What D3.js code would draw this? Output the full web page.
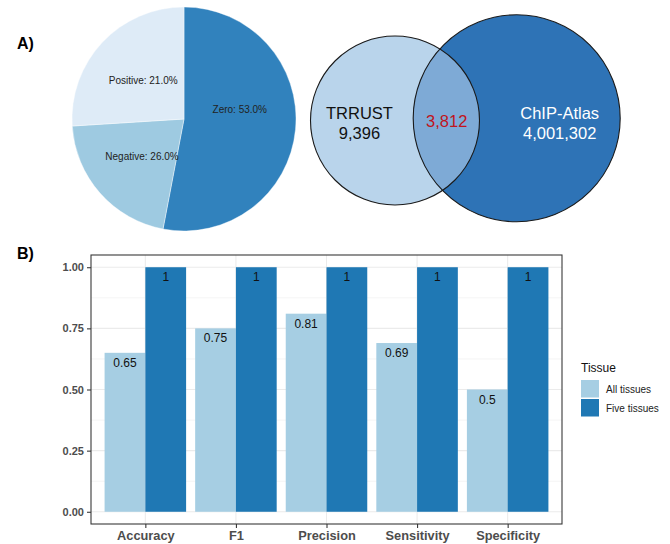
<!DOCTYPE html>
<html>
<head>
<meta charset="utf-8">
<script src="https://cdn.jsdelivr.net/npm/d3@7"></script>
<style>
  body { margin: 0; background: #fff; }
  svg { font-family: "Liberation Sans", Arial, Helvetica, sans-serif; display: block; }
</style>
</head>
<body>
<div id="mount"></div>
<script>
// ---- data ----
// pie (slice sizes as drawn, labels as printed)
var pieCategories = ['Zero', 'Negative', 'Positive'];
var pieShares = [53, 21, 26];
var pieLabels = ['Zero: 53.0%', 'Negative: 26.0%', 'Positive: 21.0%'];

// venn
var vennSets = ['TRRUST', 'ChIP-Atlas'];
var vennCounts = [9396, 4001302];
var vennOverlap = 3812;

// bar chart
var metrics = ['Accuracy', 'F1', 'Precision', 'Sensitivity', 'Specificity'];
var tissues = ['All tissues', 'Five tissues'];
var allTissues = [0.65, 0.75, 0.81, 0.69, 0.5];
var fiveTissues = [1, 1, 1, 1, 1];
var yTicks = [0, 0.25, 0.5, 0.75, 1];
var yMinor = [0.125, 0.375, 0.625, 0.875];

var width = 670, height = 544;
var svg = d3.select('#mount').append('svg')
    .attr('width', width)
    .attr('height', height);

// panel letters
svg.append('text').attr('x', 17).attr('y', 48.5)
    .style('font-size', '16px').style('font-weight', 'bold').text('A)');
svg.append('text').attr('x', 17).attr('y', 258.5)
    .style('font-size', '16px').style('font-weight', 'bold').text('B)');

// ---- pie ----
var pieR = 112;
var pieG = svg.append('g').attr('transform', 'translate(184,119)');
var pieColor = d3.scaleOrdinal().domain(pieCategories).range(['#3182bd', '#9ecae1', '#deebf7']);
var pie = d3.pie().sort(null).value(d => d.value);
var arc = d3.arc().innerRadius(0).outerRadius(pieR);
var pieData = pie(pieCategories.map((c, i) => ({ cat: c, value: pieShares[i], label: pieLabels[i] })));

pieG.selectAll('.slice')
    .data(pieData)
  .enter().append('path')
    .attr('class', 'slice')
    .attr('d', arc)
    .style('fill', d => pieColor(d.data.cat))
    .style('stroke', '#fff')
    .style('stroke-width', 0.4);

pieG.selectAll('.plabel')
    .data(pieData)
  .enter().append('text')
    .attr('class', 'plabel')
    .attr('transform', d => {
      var c = arc.centroid(d);
      // the zero label sits a little higher in the original
      if (d.data.cat === 'Zero') c[1] -= 15;
      return `translate(${c[0]},${c[1]})`;
    })
    .attr('dy', '0.35em')
    .attr('text-anchor', 'middle')
    .style('font-size', '10px')
    .style('fill', '#222')
    .text(d => d.data.label);

// ---- venn ----
var fmt = d3.format(',');
var venn = [
  { name: vennSets[0], count: vennCounts[0], cx: 395, cy: 120.5, r: 84.5, fill: '#b9d4eb', text: '#111' },
  { name: vennSets[1], count: vennCounts[1], cx: 516.7, cy: 118.3, r: 103.5, fill: '#2e73b6', text: '#fff' }
];
var vennG = svg.append('g');
vennG.append('clipPath').attr('id', 'clipLeft')
  .append('circle').attr('cx', venn[0].cx).attr('cy', venn[0].cy).attr('r', venn[0].r);

vennG.selectAll('.vcirc')
    .data(venn)
  .enter().append('circle')
    .attr('class', 'vcirc')
    .attr('cx', d => d.cx).attr('cy', d => d.cy).attr('r', d => d.r)
    .style('fill', d => d.fill);

vennG.append('circle')
    .attr('cx', venn[1].cx).attr('cy', venn[1].cy).attr('r', venn[1].r)
    .attr('clip-path', 'url(#clipLeft)')
    .style('fill', '#7eaad6');

vennG.selectAll('.vline')
    .data(venn)
  .enter().append('circle')
    .attr('class', 'vline')
    .attr('cx', d => d.cx).attr('cy', d => d.cy).attr('r', d => d.r)
    .style('fill', 'none').style('stroke', '#1a1a1a').style('stroke-width', 1.1);

var vtx = [359.5, 559.7];
venn.forEach((d, i) => {
  vennG.append('text').attr('x', vtx[i]).attr('y', 118.5).attr('text-anchor', 'middle')
      .style('font-size', '16.5px').style('fill', d.text).text(d.name);
  vennG.append('text').attr('x', vtx[i]).attr('y', 138.5).attr('text-anchor', 'middle')
      .style('font-size', '16.5px').style('fill', d.text).text(fmt(d.count));
});
vennG.append('text').attr('x', 446.7).attr('y', 126.5).attr('text-anchor', 'middle')
    .style('font-size', '16.5px').style('fill', '#c0141c').text(fmt(vennOverlap));

// ---- bar chart ----
var panel = { left: 91, right: 562, top: 255, bottom: 524 };
var x = d3.scalePoint().domain(metrics).range([panel.left, panel.right]).padding(0.6);
var step = x.step();
var xSub = d3.scaleBand().domain(tissues).range([-0.45 * step, 0.45 * step]);
var y = d3.scaleLinear().domain([-0.05, 1.05]).range([panel.bottom, panel.top]);
var barColor = d3.scaleOrdinal().domain(tissues).range(['#a6cee3', '#1f78b4']);

var bars = svg.append('g');

// grid
bars.selectAll('.minor').data(yMinor).enter().append('line')
    .attr('x1', panel.left).attr('x2', panel.right)
    .attr('y1', d => y(d)).attr('y2', d => y(d))
    .style('stroke', '#ebebeb').style('stroke-width', 0.55);
bars.selectAll('.hmajor').data(yTicks).enter().append('line')
    .attr('x1', panel.left).attr('x2', panel.right)
    .attr('y1', d => y(d)).attr('y2', d => y(d))
    .style('stroke', '#ebebeb').style('stroke-width', 1.07);
bars.selectAll('.vmajor').data(metrics).enter().append('line')
    .attr('x1', d => x(d)).attr('x2', d => x(d))
    .attr('y1', panel.top).attr('y2', panel.bottom)
    .style('stroke', '#ebebeb').style('stroke-width', 1.07);

var barData = [];
metrics.forEach((m, i) => {
  barData.push({ metric: m, tissue: tissues[0], value: allTissues[i] });
  barData.push({ metric: m, tissue: tissues[1], value: fiveTissues[i] });
});

bars.selectAll('.bar')
    .data(barData)
  .enter().append('rect')
    .attr('class', 'bar')
    .attr('x', d => x(d.metric) + xSub(d.tissue))
    .attr('width', xSub.bandwidth())
    .attr('y', d => y(d.value))
    .attr('height', d => y(0) - y(d.value))
    .style('fill', d => barColor(d.tissue));

bars.selectAll('.blabel')
    .data(barData)
  .enter().append('text')
    .attr('class', 'blabel')
    .attr('x', d => x(d.metric) + xSub(d.tissue) + xSub.bandwidth() / 2)
    .attr('y', d => y(d.value) + 14)
    .attr('text-anchor', 'middle')
    .style('font-size', '12px')
    .style('fill', '#111')
    .text(d => String(d.value));

// panel border
bars.append('rect')
    .attr('x', panel.left).attr('y', panel.top)
    .attr('width', panel.right - panel.left).attr('height', panel.bottom - panel.top)
    .style('fill', 'none').style('stroke', '#333').style('stroke-width', 1.07);

// axes
var yAxis = d3.axisLeft(y).tickValues(yTicks).tickFormat(d3.format('.2f')).tickSize(4).tickPadding(3);
var xAxis = d3.axisBottom(x).tickSize(4).tickPadding(3);

var yg = bars.append('g').attr('transform', `translate(${panel.left},0)`).call(yAxis);
var xg = bars.append('g').attr('transform', `translate(0,${panel.bottom})`).call(xAxis);
[yg, xg].forEach(g => {
  g.select('.domain').remove();
  g.selectAll('.tick line').style('stroke', '#333').style('stroke-width', 1.07);
  g.selectAll('.tick text').style('fill', '#4d4d4d').style('font-weight', 'bold')
      .style('font-family', '"Liberation Sans", Arial, sans-serif');
});
yg.selectAll('.tick text').style('font-size', '11px');
xg.selectAll('.tick text').style('font-size', '12.8px');

// legend
var legend = svg.append('g').attr('transform', 'translate(581,0)');
legend.append('text').attr('x', 0).attr('y', 372)
    .style('font-size', '12px').style('fill', '#111').text('Tissue');
var lg = legend.selectAll('.lkey')
    .data(tissues)
  .enter().append('g')
    .attr('class', 'lkey')
    .attr('transform', (d, i) => `translate(0,${380 + i * 19})`);
lg.append('rect').attr('width', 18).attr('height', 17.5)
    .style('fill', d => barColor(d));
lg.append('text').attr('x', 25).attr('y', 13)
    .style('font-size', '10px').style('fill', '#222').text(d => d);
</script>
</body>
</html>
